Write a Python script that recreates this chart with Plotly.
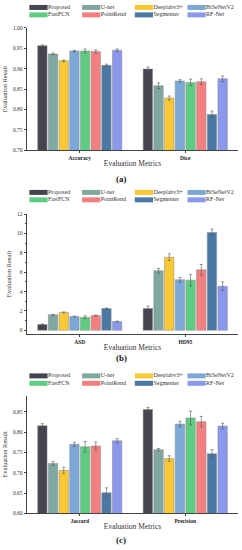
import plotly.graph_objects as go

models = ["Proposed", "U-net", "Deeplabv3+", "BiSeNetV2", "FastFCN", "PointRend", "Segmenter", "RF-Net"]
colors = ["#46444f", "#7fa8a0", "#f8c935", "#7ba8d6", "#5ecc83", "#f47f80", "#4b79a5", "#8a98ee"]

metrics_a = ["Accuracy", "Dice"]
acc = [0.956, 0.936, 0.919, 0.943, 0.943, 0.942, 0.908, 0.945]
acc_err = [0.002, 0.002, 0.002, 0.002, 0.005, 0.004, 0.003, 0.003]
dice = [0.899, 0.858, 0.828, 0.870, 0.866, 0.868, 0.788, 0.875]
dice_err = [0.005, 0.007, 0.005, 0.003, 0.008, 0.007, 0.008, 0.007]

metrics_b = ["ASD", "HD95"]
asd = [0.60, 1.60, 1.85, 1.42, 1.35, 1.52, 2.25, 0.90]
asd_err = [0.05, 0.05, 0.05, 0.05, 0.15, 0.05, 0.05, 0.05]
hd95 = [2.25, 6.15, 7.55, 5.22, 5.18, 6.25, 10.10, 4.55]
hd95_err = [0.25, 0.25, 0.35, 0.25, 0.60, 0.55, 0.35, 0.45]

metrics_c = ["Jaccard", "Precision"]
jac = [0.816, 0.723, 0.706, 0.770, 0.764, 0.766, 0.651, 0.779]
jac_err = [0.005, 0.005, 0.008, 0.005, 0.013, 0.010, 0.012, 0.005]
prec = [0.856, 0.757, 0.735, 0.820, 0.835, 0.826, 0.747, 0.815]
prec_err = [0.005, 0.003, 0.007, 0.007, 0.017, 0.013, 0.010, 0.007]

W, H = 242, 550
FONT = "Liberation Serif"

panels = [
    dict(cats=metrics_a, s1=acc, e1=acc_err, s2=dice, e2=dice_err, top=25, bot=149,
         rng=[0.70, 1.00], dtick=0.05, fmt=".2f", leg_y=4.5, lab="(a)", lab_y=178),
    dict(cats=metrics_b, s1=asd, e1=asd_err, s2=hd95, e2=hd95_err, top=213, bot=335,
         rng=[-0.42, 12.05], dtick=2, fmt="d", leg_y=191.5, lab="(b)", lab_y=359),
    dict(cats=metrics_c, s1=jac, e1=jac_err, s2=prec, e2=prec_err, top=397, bot=516,
         rng=[0.60, 0.89], dtick=0.05, fmt=".2f", leg_y=377, lab="(c)", lab_y=543),
]

fig = go.Figure()
layout = dict(width=W, height=H, margin=dict(l=0, r=0, t=0, b=0),
              paper_bgcolor="white", plot_bgcolor="white", showlegend=False,
              barmode="group", bargap=0.19, bargroupgap=0.12,
              font=dict(family=FONT, size=6, color="#333"), annotations=[])

leg_cols = [i % 4 for i in range(len(models))]
leg_rows = [i // 4 for i in range(len(models))]
COLW = 52.7  # px between legend columns

for p_i, p in enumerate(panels):
    sfx = "" if p_i == 0 else str(p_i + 1)
    for i, m in enumerate(models):
        fig.add_trace(go.Bar(
            x=p["cats"], y=[p["s1"][i], p["s2"][i]],
            error_y=dict(type="data", array=[p["e1"][i], p["e2"][i]], color="#555", thickness=0.6, width=1.5),
            name=m, marker=dict(color=colors[i], line=dict(color="#8a8a8a", width=0.5)),
            xaxis="x" + sfx, yaxis="y" + sfx, offsetgroup=str(i),
        ))
    ydom = [1 - p["bot"] / H, 1 - p["top"] / H]
    layout["xaxis" + sfx] = dict(domain=[27 / W, 238 / W], anchor="y" + sfx, type="category",
                                 showline=True, linecolor="#444", linewidth=0.8,
                                 ticks="outside", ticklen=2, tickcolor="#444",
                                 tickfont=dict(size=5.5, weight="bold", color="#222"),
                                 title=dict(text="Evaluation Metrics", font=dict(size=7.5, color="#333"), standoff=0))
    layout["yaxis" + sfx] = dict(domain=ydom, anchor="x" + sfx, range=p["rng"], dtick=p["dtick"],
                                 tick0=0, tickformat=p["fmt"],
                                 showline=True, linecolor="#444", linewidth=0.8, showgrid=False,
                                 zeroline=False, ticks="outside", ticklen=2.5, tickcolor="#444",
                                 minor=dict(ticks="outside", ticklen=1.5, tickcolor="#444", nticks=2),
                                 tickfont=dict(size=5.5, color="#333"),
                                 title=dict(text="Evaluation Result", font=dict(size=6.5, color="#333"), standoff=4))
    # legend as a small hidden-axis scatter
    lx, ly = "x" + str(4 + p_i), "y" + str(4 + p_i)
    fig.add_trace(go.Scatter(
        x=leg_cols, y=leg_rows, mode="markers",
        marker=dict(symbol="line-ew", size=13, color=colors, line=dict(color=colors, width=5)),
        cliponaxis=False, hoverinfo="skip", xaxis=lx, yaxis=ly,
    ))
    fig.add_trace(go.Scatter(
        x=[c + 0.18 for c in leg_cols], y=leg_rows, mode="text", text=models, textposition="middle right",
        textfont=dict(size=6, color="#333"), cliponaxis=False, hoverinfo="skip", xaxis=lx, yaxis=ly,
    ))
    layout["xaxis" + str(4 + p_i)] = dict(domain=[38.5 / W, (38.5 + 3.6 * COLW) / W], range=[0, 3.6],
                                          visible=False, anchor=ly, fixedrange=True)
    layout["yaxis" + str(4 + p_i)] = dict(domain=[1 - (p["leg_y"] + 7.5) / H, 1 - p["leg_y"] / H],
                                          range=[1, 0], visible=False, anchor=lx, fixedrange=True)
    layout["annotations"].append(dict(text="<b>" + p["lab"] + "</b>", x=0.5, xref="paper",
                                      y=1 - p["lab_y"] / H, yref="paper", showarrow=False,
                                      font=dict(size=9, color="#222"), xanchor="center", yanchor="middle"))

fig.update_layout(**layout)
fig.write_html("out.html", post_script="document.body.style.margin='0';",
               config={"displayModeBar": False})
